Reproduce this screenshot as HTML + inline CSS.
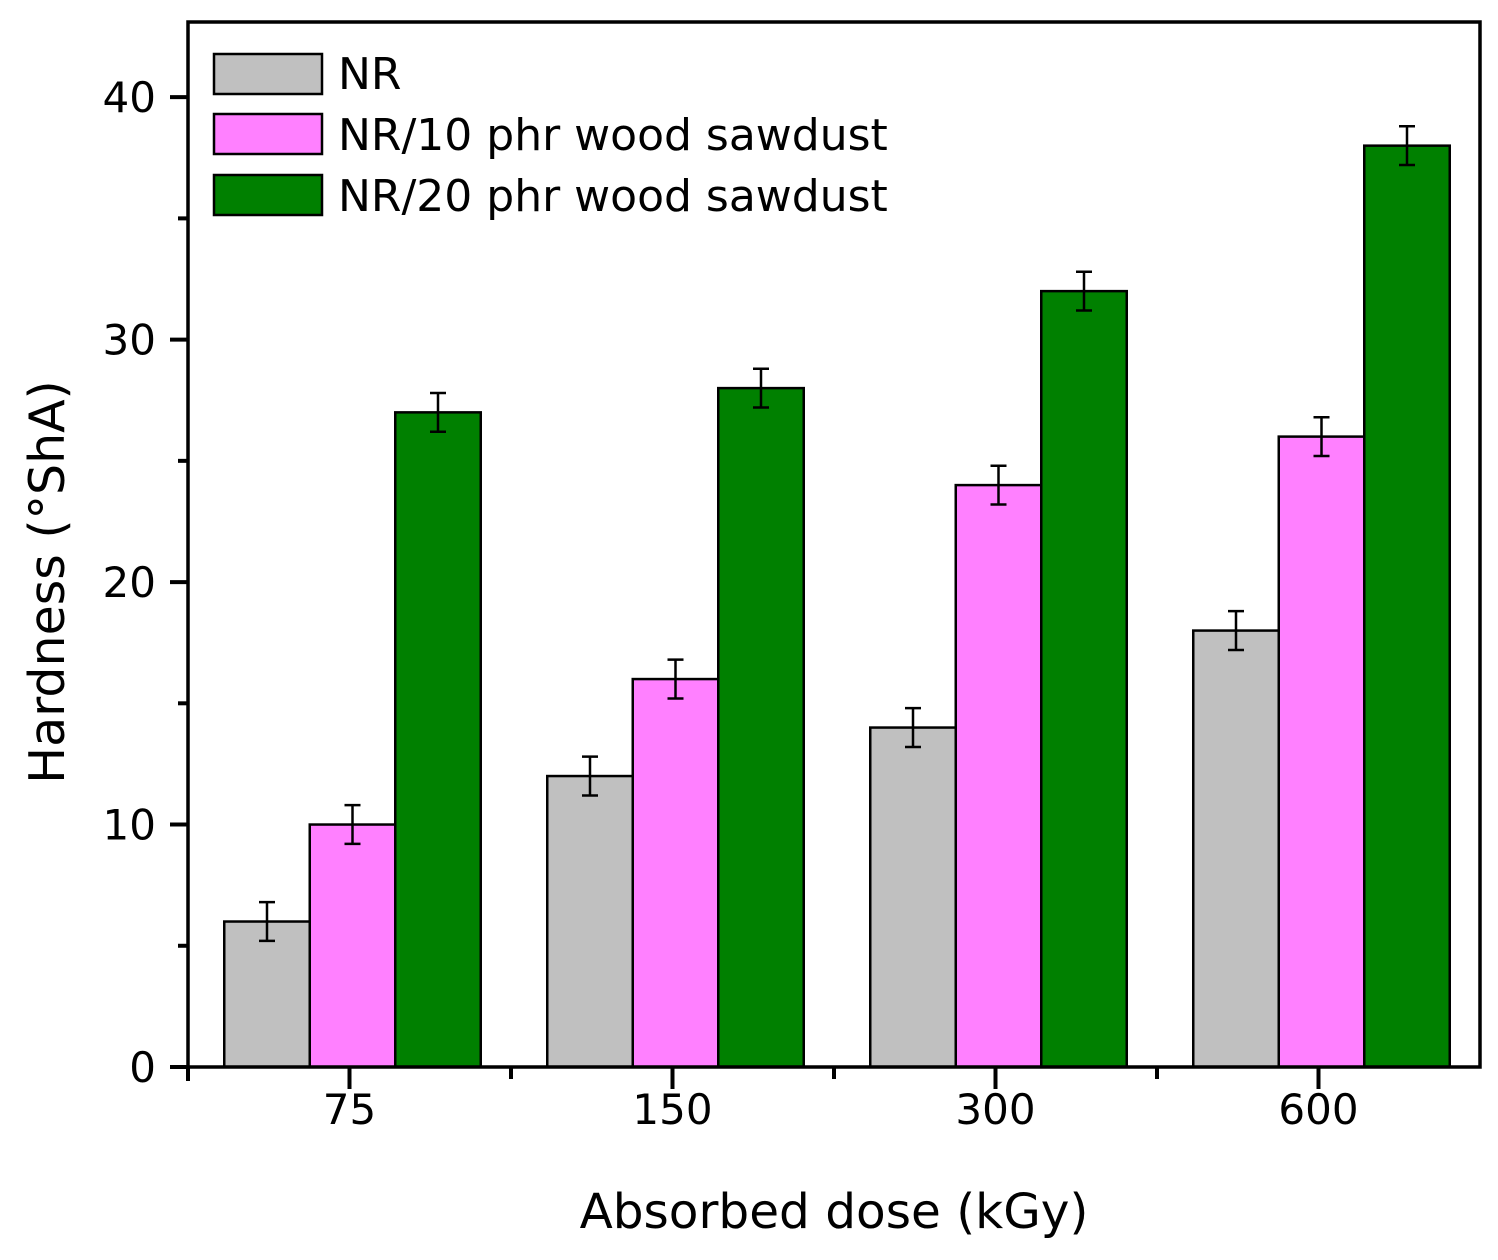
<!DOCTYPE html>
<html><head><meta charset="utf-8"><style>
body{margin:0;background:#fff}
svg{display:block;font-family:"DejaVu Sans","Liberation Sans",sans-serif}
</style></head><body>
<svg id="chart" width="1498" height="1260" xmlns="http://www.w3.org/2000/svg">
<g id="marks"></g>
<g id="axes"></g>
<text x="834" y="1228" font-size="48.5" text-anchor="middle">Absorbed dose (kGy)</text>
<text transform="translate(64,582) rotate(-90)" font-size="49" text-anchor="middle">Hardness (°ShA)</text>
<g>
<rect x="214" y="54" width="108" height="40" fill="#c0c0c0" stroke="#000" stroke-width="2.5"/>
<text x="338" y="89" font-size="44">NR</text>
<rect x="214" y="114" width="108" height="40" fill="#ff80ff" stroke="#000" stroke-width="2.5"/>
<text x="338" y="150" font-size="44">NR/10 phr wood sawdust</text>
<rect x="214" y="175" width="108" height="40" fill="#008000" stroke="#000" stroke-width="2.5"/>
<text x="338" y="211" font-size="44">NR/20 phr wood sawdust</text>
</g>
</svg>
<script>
const categories = ["75","150","300","600"];
const seriesNames = ["NR","NR/10 phr wood sawdust","NR/20 phr wood sawdust"];
const nrValues = [6,12,14,18];
const nr10Values = [10,16,24,26];
const nr20Values = [27,28,32,38];
const errValues = [0.8,0.8,0.8,0.8];
const yTicks = [0,10,20,30,40];
const colors = ["#c0c0c0","#ff80ff","#008000"];

const L=188,R=1480,T=22,B=1067;
const yMax=43.1;
const y=v=>B-v*(B-T)/yMax;
const band=(R-L)/categories.length;
const xc=i=>L+band*(i+0.5)+3;
const bw=85.5;
const NS="http://www.w3.org/2000/svg";
function mk(tag,attrs,parent){const e=document.createElementNS(NS,tag);for(const k in attrs)e.setAttribute(k,attrs[k]);parent.appendChild(e);return e;}
const marks=document.getElementById('marks');
const axes=document.getElementById('axes');
const all=[nrValues,nr10Values,nr20Values];
all.forEach((vals,s)=>{
  vals.forEach((v,i)=>{
    const x0=xc(i)-1.5*bw+s*bw;
    const r=mk('rect',{x:x0,y:y(v),width:bw,height:B-y(v),fill:colors[s],stroke:'#000','stroke-width':2.5},marks);
    
    
    const cx=x0+bw/2,e=errValues[i];
    const g=mk('path',{d:`M${cx},${y(v+e)}V${y(v-e)}M${cx-8},${y(v+e)}H${cx+8}M${cx-8},${y(v-e)}H${cx+8}`,stroke:'#000','stroke-width':2.5,fill:'none'},marks);
    
    
  });
});
const frame=mk('rect',{x:L,y:T,width:R-L,height:B-T,fill:'none',stroke:'#000','stroke-width':3.5},axes);


for(let v=0;v<=40;v+=5){
  const major=v%10===0;
  mk('line',{x1:major?170:178,x2:L,y1:y(v),y2:y(v),stroke:'#000','stroke-width':4},axes);
}
yTicks.forEach(v=>{
  const t=mk('text',{x:156,y:y(v)+15,'font-size':42,'text-anchor':'end'},axes);
  t.textContent=v;
  
  
});
mk('line',{x1:L,x2:L,y1:B,y2:B+14,stroke:'#000','stroke-width':4},axes);
for(let i=1;i<categories.length;i++){
  mk('line',{x1:L+band*i,x2:L+band*i,y1:B,y2:B+12,stroke:'#000','stroke-width':4},axes);
}
categories.forEach((c,i)=>{
  const cx=L+band*(i+0.5);
  mk('line',{x1:cx,x2:cx,y1:B,y2:B+22,stroke:'#000','stroke-width':4},axes);
  const t=mk('text',{x:cx,y:B+57,'font-size':42,'text-anchor':'middle'},axes);
  t.textContent=c;
  
  
});
</script>
</body></html>
